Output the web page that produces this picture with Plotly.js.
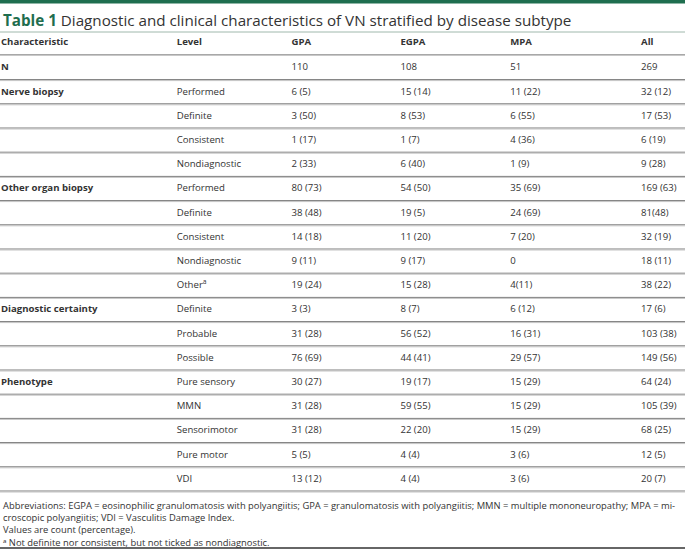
<!DOCTYPE html>
<html>
<head>
<meta charset="utf-8">
<script src="https://cdn.plot.ly/plotly-3.0.1.min.js"></script>
<style>html,body{margin:0;padding:0;background:#fff;}#chart{width:685px;height:553px;}</style>
</head>
<body>
<div id="chart"></div>
<script>
// ---- data ----
const headers = ["Characteristic", "Level", "GPA", "EGPA", "MPA", "All"];
const characteristic = ["N", "Nerve biopsy", "", "", "", "Other organ biopsy", "", "", "", "", "Diagnostic certainty", "", "", "Phenotype", "", "", "", ""];
const level = ["", "Performed", "Definite", "Consistent", "Nondiagnostic", "Performed", "Definite", "Consistent", "Nondiagnostic", "Other<sup>a</sup>", "Definite", "Probable", "Possible", "Pure sensory", "MMN", "Sensorimotor", "Pure motor", "VDI"];
const gpa = ["110", "6 (5)", "3 (50)", "1 (17)", "2 (33)", "80 (73)", "38 (48)", "14 (18)", "9 (11)", "19 (24)", "3 (3)", "31 (28)", "76 (69)", "30 (27)", "31 (28)", "31 (28)", "5 (5)", "13 (12)"];
const egpa = ["108", "15 (14)", "8 (53)", "1 (7)", "6 (40)", "54 (50)", "19 (5)", "11 (20)", "9 (17)", "15 (28)", "8 (7)", "56 (52)", "44 (41)", "19 (17)", "59 (55)", "22 (20)", "4 (4)", "4 (4)"];
const mpa = ["51", "11 (22)", "6 (55)", "4 (36)", "1 (9)", "35 (69)", "24 (69)", "7 (20)", "0", "4(11)", "6 (12)", "16 (31)", "29 (57)", "15 (29)", "15 (29)", "15 (29)", "3 (6)", "3 (6)"];
const allCol = ["269", "32 (12)", "17 (53)", "6 (19)", "9 (28)", "169 (63)", "81(48)", "32 (19)", "18 (11)", "38 (22)", "17 (6)", "103 (38)", "149 (56)", "64 (24)", "105 (39)", "68 (25)", "12 (5)", "20 (7)"];
const titleBold = "Table 1";
const titleText = "Diagnostic and clinical characteristics of VN stratified by disease subtype";
const footnotes = [
  "Abbreviations: EGPA = eosinophilic granulomatosis with polyangiitis; GPA = granulomatosis with polyangiitis; MMN = multiple mononeuropathy; MPA = mi-",
  "croscopic polyangiitis; VDI = Vasculitis Damage Index.",
  "Values are count (percentage).",
  "ᵃ Not definite nor consistent, but not ticked as nondiagnostic."
];

// ---- layout helpers ----
const colX = [0, 176, 291, 400, 510, 641];
const rowPitch = 24.2, row0 = 68;
const pxToRow = p => (p - row0) / rowPitch;
const font = "Open Sans, Noto Sans, sans-serif";
const txtColor = "#333333";
const green = "#1f6e4f";
const bodySize = 9.6;

const columns = [characteristic, level, gpa, egpa, mpa, allCol];

const traces = columns.map((col, c) => {
  const idx = col.map((t, i) => i).filter(i => col[i] !== "");
  return {
    type: "scatter", mode: "text",
    x: idx.map(() => colX[c]), y: idx,
    text: idx.map(i => c === 0 ? "<b>" + col[i] + "</b>" : col[i]),
    textposition: "middle right",
    textfont: {family: font, size: bodySize, color: txtColor},
    hoverinfo: "skip", showlegend: false, cliponaxis: false
  };
});
// header row
traces.push({
  type: "scatter", mode: "text",
  x: colX, y: headers.map(() => pxToRow(42.5)),
  text: headers.map(h => "<b>" + h + "</b>"),
  textposition: "middle right",
  textfont: {family: font, size: bodySize, color: txtColor},
  hoverinfo: "skip", showlegend: false, cliponaxis: false
});

const shapes = [];
// top band
shapes.push({type: "rect", xref: "paper", yref: "paper", x0: 0, x1: 1, y0: 1 - 3.5/553, y1: 1, fillcolor: green, line: {width: 0}, layer: "below"});
// line below title
shapes.push({type: "line", xref: "paper", yref: "y", x0: 0, x1: 1, y0: pxToRow(32), y1: pxToRow(32), line: {color: "#9fb8ac", width: 1}});
// row separators
const addRule = (r, dark, light) => {
  const d = 1 / rowPitch;
  shapes.push({type: "line", xref: "paper", yref: "y", x0: 0, x1: 1, y0: r - d*0.5, y1: r - d*0.5, line: {color: dark, width: 1}});
  shapes.push({type: "line", xref: "paper", yref: "y", x0: 0, x1: 1, y0: r + d*0.5, y1: r + d*0.5, line: {color: light, width: 1}});
};
addRule(pxToRow(55), "#a8a8a8", "#c8c8c8");
level.forEach((_, i) => addRule(i + 0.5, "#7a7a7a", "#c4c4c4"));
// bottom rule
shapes.push({type: "line", xref: "paper", yref: "y", x0: 0, x1: 1, y0: pxToRow(548), y1: pxToRow(548), line: {color: "#333333", width: 1.5}});

const annotations = [{
  xref: "x", yref: "y", x: 0, y: pxToRow(19.5), xanchor: "left", yanchor: "middle", showarrow: false,
  text: "<b><span style='color:" + green + "'>" + titleBold + "</span></b> " + titleText,
  font: {family: font, size: 15.2, color: "#333333"}
}, {
  xref: "x", yref: "y", x: 0, y: pxToRow(497), xanchor: "left", yanchor: "top", align: "left", showarrow: false,
  text: footnotes.join("<br>"),
  font: {family: font, size: 9.4, color: "#333333"}
}];

const layout = {
  width: 685, height: 553,
  margin: {l: 0, r: 0, t: 0, b: 0},
  paper_bgcolor: "#ffffff", plot_bgcolor: "#ffffff",
  xaxis: {range: [-1, 685], visible: false, fixedrange: true},
  yaxis: {range: [pxToRow(553), pxToRow(0)], visible: false, fixedrange: true},
  shapes: shapes, annotations: annotations, showlegend: false
};
Plotly.newPlot("chart", traces, layout, {staticPlot: true, displayModeBar: false});
</script>
</body>
</html>
